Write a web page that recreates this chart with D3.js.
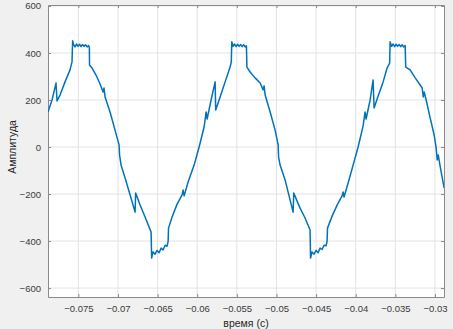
<!DOCTYPE html>
<meta charset="utf-8">
<style>
    body { margin: 0; background: #f0f0f0; }
    svg { display: block; }
    text { font-family: "Liberation Sans", Arial, sans-serif; fill: #262626; }
    .tick text { font-size: 9.5px; fill: #3a3a3a; }
    .grid line { stroke: #e3e3e3; stroke-width: 1; }
    .axis path, .axis line { stroke: #8a8a8a; }
</style>
<svg width="453" height="329"></svg>
<script src="https://d3js.org/d3.v7.min.js"></script>
<script>

    // время (с)
    var timeS = [
        -0.07883, -0.07832, -0.07782, -0.07769, -0.07731, -0.07668, -0.07605, -0.07580, -0.07572,
        -0.07561, -0.07542, -0.07523, -0.07504, -0.07485, -0.07466, -0.07447, -0.07428, -0.07409, -0.07390, -0.07371, -0.07361,
        -0.07359, -0.07327, -0.07277, -0.07226, -0.07188, -0.07176, -0.07163, -0.07100, -0.07037, -0.06986, -0.06980,
        -0.06961, -0.06910, -0.06847, -0.06784, -0.06777, -0.06721, -0.06658, -0.06582, -0.06575,
        -0.06557, -0.06532, -0.06507, -0.06481, -0.06456, -0.06431, -0.06405, -0.06380, -0.06367,
        -0.06362, -0.06317, -0.06254, -0.06191, -0.06178, -0.06165, -0.06115, -0.06039, -0.05976,
        -0.05913, -0.05888, -0.05875, -0.05825, -0.05774, -0.05767, -0.05711, -0.05648, -0.05585, -0.05570, -0.05564,
        -0.05547, -0.05528, -0.05509, -0.05490, -0.05471, -0.05452, -0.05433, -0.05414, -0.05396, -0.05379,
        -0.05373, -0.05333, -0.05269, -0.05206, -0.05168, -0.05156, -0.05143, -0.05080, -0.05017, -0.04979, -0.04973,
        -0.04954, -0.04891, -0.04790, -0.04782, -0.04702, -0.04639, -0.04576, -0.04570,
        -0.04551, -0.04526, -0.04500, -0.04475, -0.04450, -0.04425, -0.04399, -0.04374, -0.04361,
        -0.04356, -0.04298, -0.04235, -0.04172, -0.04159, -0.04147, -0.04096, -0.04033, -0.03970,
        -0.03907, -0.03882, -0.03869, -0.03818, -0.03781, -0.03768, -0.03717, -0.03654, -0.03604, -0.03572, -0.03566,
        -0.03547, -0.03528, -0.03509, -0.03490, -0.03471, -0.03452, -0.03433, -0.03414, -0.03395, -0.03376,
        -0.03369, -0.03313, -0.03249, -0.03161, -0.03148, -0.03136, -0.03111, -0.03060, -0.03010, -0.02985,
        -0.02972, -0.02959, -0.02922, -0.02884
    ];

    // Амплитуда
    var ampl = [
        149, 200, 272, 196, 221, 277, 328, 362, 452,
        436, 426, 438, 428, 437, 427, 436, 428, 435, 426, 432, 422,
        349, 336, 306, 268, 234, 251, 213, 149, 72, 9, -34,
        -77, -132, -204, -277, -196, -247, -298, -362, -472,
        -446, -456, -440, -450, -430, -438, -418, -422, -400,
        -345, -298, -243, -204, -183, -208, -149, -77, 0,
        85, 149, 119, 200, 277, 157, 213, 277, 340, 362, 448,
        428, 438, 427, 437, 428, 436, 427, 435, 426, 430,
        340, 319, 294, 272, 243, 260, 221, 149, 72, 9, -43,
        -77, -140, -277, -196, -260, -302, -353, -472,
        -446, -456, -440, -450, -430, -436, -418, -420, -400,
        -345, -294, -247, -208, -191, -213, -153, -77, 0,
        89, 149, 119, 200, 285, 166, 217, 277, 336, 357, 448,
        428, 438, 427, 437, 428, 436, 427, 435, 426, 432,
        340, 328, 294, 251, 213, 234, 200, 123, 51, -4,
        -55, -34, -106, -174
    ];

    var xTicks = [-0.075, -0.07, -0.065, -0.06, -0.055, -0.05, -0.045, -0.04, -0.035, -0.03];
    var yTicks = [-600, -400, -200, 0, 200, 400, 600];

    var svg = d3.select("svg"),
        margin = {top: 5, right: 9, bottom: 32, left: 48},
        width = +svg.attr("width") - margin.left - margin.right,
        height = +svg.attr("height") - margin.top - margin.bottom;

    var x = d3.scaleLinear().domain([-0.07883, -0.02886]).range([0, width]),
        y = d3.scaleLinear().domain([-638, 604]).range([height, 0]);

    var g = svg.append("g")
        .attr("transform", "translate(" + margin.left + "," + margin.top + ")");

    g.append("rect")
        .attr("width", width)
        .attr("height", height)
        .attr("fill", "#fff");

    // grid
    g.append("g").attr("class", "grid")
        .selectAll("line").data(xTicks).enter().append("line")
        .attr("x1", function(d) { return x(d); })
        .attr("x2", function(d) { return x(d); })
        .attr("y1", 0).attr("y2", height);

    g.append("g").attr("class", "grid")
        .selectAll("line").data(yTicks).enter().append("line")
        .attr("y1", function(d) { return y(d); })
        .attr("y2", function(d) { return y(d); })
        .attr("x1", 0).attr("x2", width);

    var fmtX = function(d) { return d3.format(".3~f")(d).replace("-", "\u2212"); };
    var fmtY = function(d) { return String(d).replace("-", "\u2212"); };

    g.append("g")
        .attr("class", "axis")
        .attr("transform", "translate(0," + height + ")")
        .call(d3.axisBottom(x).tickValues(xTicks).tickSize(-3).tickSizeOuter(0).tickPadding(8).tickFormat(fmtX));

    g.append("g")
        .attr("class", "axis")
        .call(d3.axisTop(x).tickValues(xTicks).tickSize(-3).tickSizeOuter(0).tickFormat(""));

    g.append("g")
        .attr("class", "axis")
        .call(d3.axisLeft(y).tickValues(yTicks).tickSize(-3).tickSizeOuter(0).tickPadding(7).tickFormat(fmtY));

    g.append("g")
        .attr("class", "axis")
        .attr("transform", "translate(" + width + ",0)")
        .call(d3.axisRight(y).tickValues(yTicks).tickSize(-3).tickSizeOuter(0).tickFormat(""));

    g.append("clipPath").attr("id", "clip")
        .append("rect").attr("width", width).attr("height", height);

    var pts = timeS.map(function(t, i) { return [t, ampl[i]]; });

    var line = d3.line()
        .x(function(d) { return x(d[0]); })
        .y(function(d) { return y(d[1]); });

    g.append("path")
        .datum(pts)
        .attr("clip-path", "url(#clip)")
        .attr("fill", "none")
        .attr("stroke", "#0072BD")
        .attr("stroke-width", 1.5)
        .attr("stroke-linejoin", "round")
        .attr("d", line);

    // axis labels
    svg.append("text")
        .attr("x", margin.left + width / 2)
        .attr("y", 327)
        .attr("text-anchor", "middle")
        .style("font-size", "10.5px")
        .text("время (с)");

    svg.append("text")
        .attr("transform", "translate(16," + (margin.top + y(0)) + ") rotate(-90)")
        .attr("text-anchor", "middle")
        .style("font-size", "10.5px")
        .text("Амплитуда");

</script>
